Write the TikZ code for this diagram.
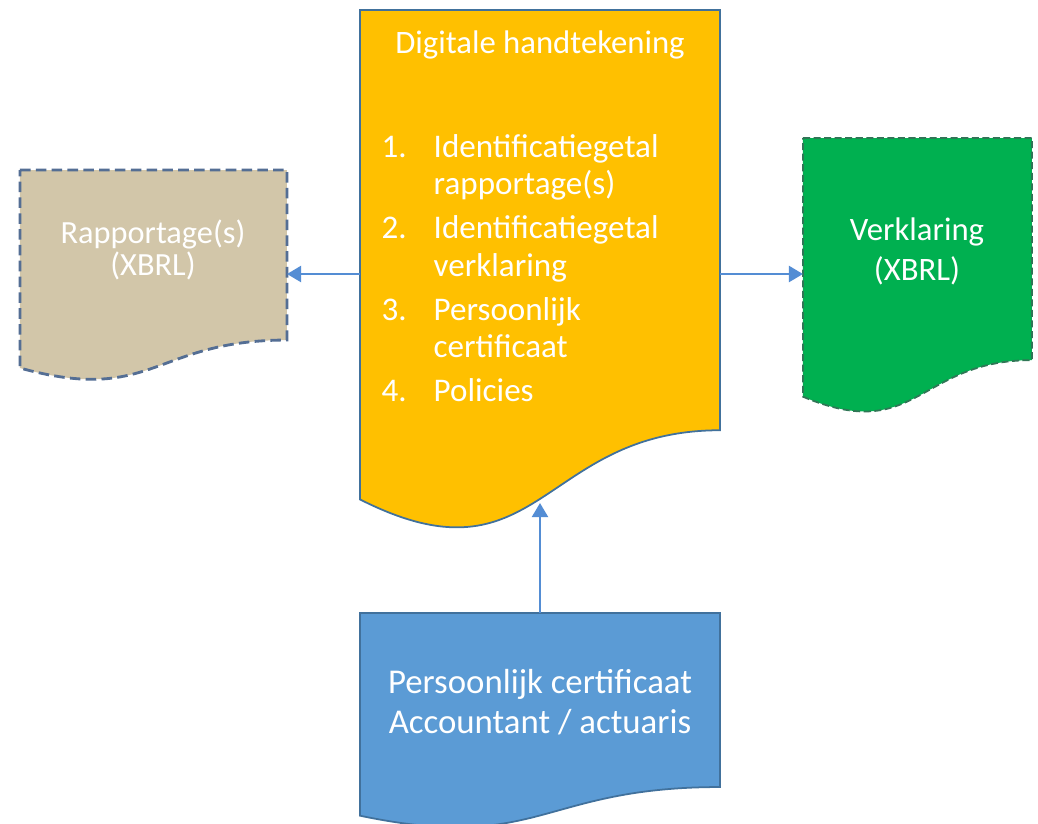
\documentclass[tikz,border=0pt]{standalone}
\usepackage{fontspec}
\setmainfont{Carlito}
\usepackage{tikz}
\usetikzlibrary{arrows.meta}
\definecolor{docyellow}{RGB}{255,192,0}
\definecolor{doctan}{RGB}{210,198,169}
\definecolor{docgreen}{RGB}{0,176,80}
\definecolor{docblue}{RGB}{91,155,213}
\definecolor{docline}{RGB}{65,113,156}
\definecolor{tanline}{RGB}{84,110,148}
\definecolor{greenline}{RGB}{48,118,86}
\definecolor{arrowblue}{RGB}{84,141,212}
\def\docshape[#1](#2,#3)(#4,#5){\draw[#1] (#2,#3) -- ({#2+#4},#3) -- ({#2+#4},{#3+0.802*#5}) .. controls ({#2+0.5*#4},{#3+0.802*#5}) and ({#2+0.5*#4},{#3+1.1075*#5}) .. (#2,{#3+0.934*#5}) -- cycle;}
\tikzset{
  doctext/.style={text=white, inner sep=0pt, font=\fontsize{9.3}{11.4}\selectfont},
  flow/.style={draw=arrowblue, line width=0.8pt, -{Triangle[width=4.5pt,length=4pt]}}
}

\begin{document}
\begin{tikzpicture}[x=0.01cm, y=-0.01cm]
			%%%%% FRAME %%%%%
			\useasboundingbox (0,0) rectangle (1038,823);
			\fill[white] (0,0) rectangle (1038,823);
			
			%%%%% DOCUMENTS %%%%%
			\docshape[fill=docyellow, draw=docline, line width=0.5pt](360,10)(360,524)
			\docshape[fill=doctan, draw=tanline, line width=0.8pt, dash pattern=on 3pt off 1.5pt](20,170)(267,212)
			\docshape[fill=docgreen, draw=greenline, line width=0.5pt, dash pattern=on 2pt off 1pt](803,138)(229,277)
			\docshape[fill=docblue, draw=docline, line width=0.5pt](360,613)(360,217)
			
			%%%%% TEXTS %%%%%
			\node[doctext, anchor=base] (sig) at (540,53) {Digitale handtekening};
			\node[doctext, anchor=base west, font=\fontsize{9.4}{10.7}\selectfont] (items) at (381,157) {%
				\begin{tabular}[t]{@{}p{0.52cm}@{}l@{}}
					1. & Identificatiegetal\\
					   & rapportage(s)\\[1.8pt]
					2. & Identificatiegetal\\
					   & verklaring\\[1.8pt]
					3. & Persoonlijk\\
					   & certificaat\\[1.8pt]
					4. & Policies
				\end{tabular}};
			\node[doctext, anchor=base, font=\fontsize{9.2}{8.5}\selectfont] (rap) at (153,243) {%
				\begin{tabular}[t]{@{}c@{}}Rapportage(s)\\(XBRL)\end{tabular}};
			\node[doctext, anchor=base] (verk) at (917,240) {%
				\begin{tabular}[t]{@{}c@{}}Verklaring\\(XBRL)\end{tabular}};
			\node[doctext, anchor=base, font=\fontsize{9.9}{11.4}\selectfont] (cert) at (540,693) {%
				\begin{tabular}[t]{@{}c@{}}Persoonlijk certificaat\\Accountant / actuaris\end{tabular}};
			
			%%%%% ARROWS %%%%%
			\coordinate (sigW) at (360,274);
			\coordinate (rapE) at (287,274);
			\coordinate (sigE) at (720,274);
			\coordinate (verkW) at (803,274);
			\coordinate (certN) at (540,613);
			\coordinate (sigS) at (540,503);
			\draw[flow] (sigW) -- (rapE);
			\draw[flow] (sigE) -- (verkW);
			\draw[flow] (certN) -- (sigS);
		\end{tikzpicture}
\end{document}
